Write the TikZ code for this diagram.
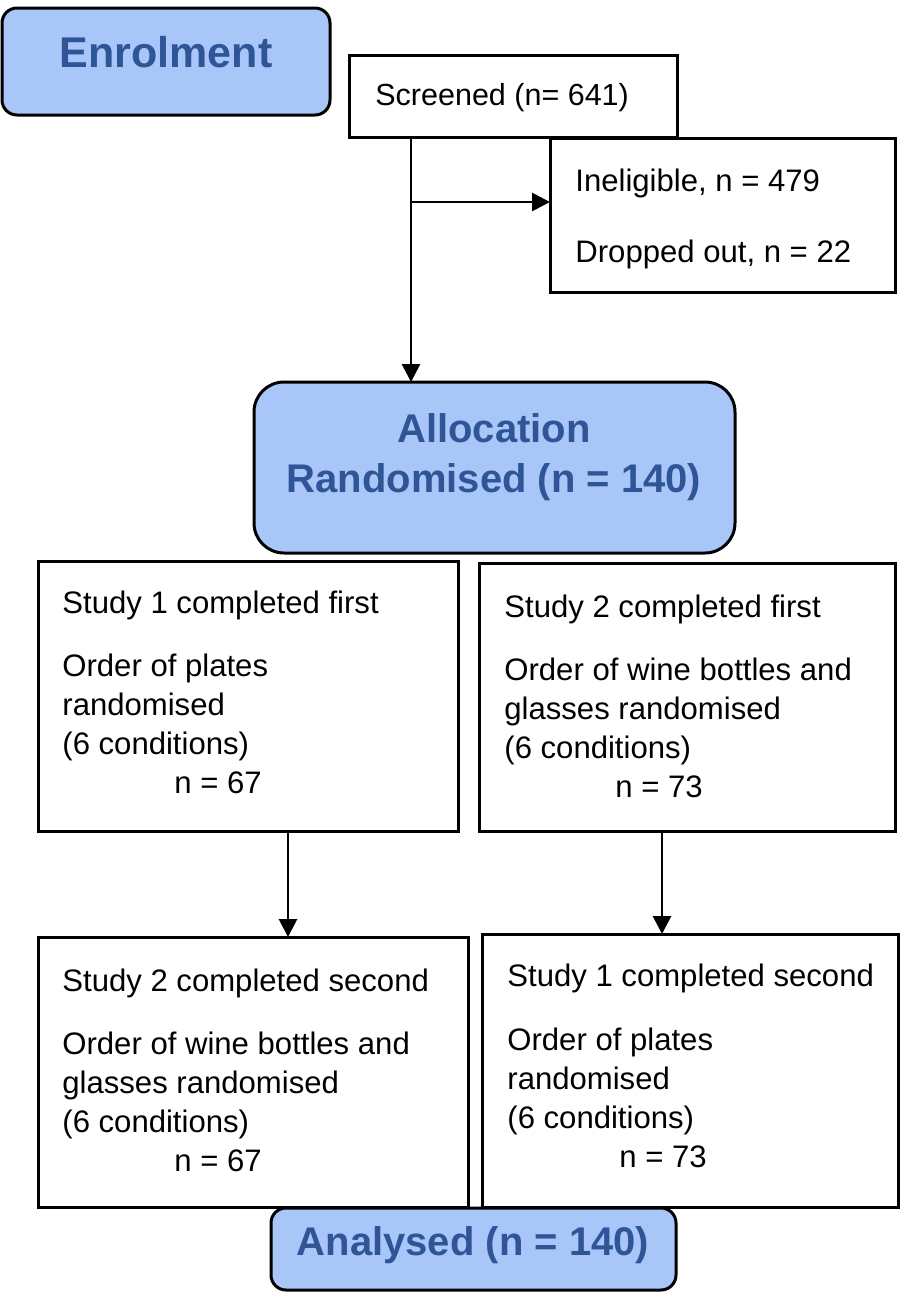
\documentclass[tikz,border=0pt]{standalone}
\usepackage{fontspec}
\setmainfont{Liberation Sans}
\usetikzlibrary{arrows.meta}
\definecolor{boxblue}{HTML}{A9C6F8}
\definecolor{headblue}{HTML}{2F5597}
\newcommand{\bodyfont}{\fontsize{15.55pt}{19.5pt}\selectfont}
\newcommand{\headfont}{\fontsize{20pt}{25pt}\selectfont\bfseries}
\begin{document}
\begin{tikzpicture}[x=0.5pt,y=-0.5pt,
  box/.style={draw, line width=1.5pt, inner sep=0pt, outer sep=0pt, anchor=north west, fill=white},
  rbox/.style={box, fill=boxblue},
  txt/.style={anchor=base west, inner sep=0pt, font=\bodyfont},
  head/.style={anchor=base, inner sep=0pt, font=\headfont, text=headblue},
  arr/.style={line width=1.4pt, -{Triangle[length=9pt,width=9pt]}}]
\useasboundingbox (0,0) rectangle (904,1292);
% boxes
\node[rbox, rounded corners=7.5pt, minimum width=164pt, minimum height=53.5pt] (enrol) at (2,8) {};
\node[box, minimum width=164pt, minimum height=41pt] (scr) at (349,55) {};
\node[box, minimum width=172.5pt, minimum height=77pt] (inel) at (550,138) {};
\node[rbox, rounded corners=15pt, minimum width=240.5pt, minimum height=85.5pt] (alloc) at (254,382) {};
\node[box, minimum width=210pt, minimum height=135pt] (s1f) at (38,561) {};
\node[box, minimum width=208pt, minimum height=134pt] (s2f) at (479,563) {};
\node[box, minimum width=215pt, minimum height=135pt] (s2s) at (38,937) {};
\node[box, minimum width=208pt, minimum height=136.5pt] (s1s) at (482,934) {};
\node[rbox, rounded corners=7.5pt, minimum width=202.5pt, minimum height=41pt] (anal) at (271,1208) {};
% texts
\node[head, font=\fontsize{21.5pt}{25pt}\selectfont\bfseries] (tenrol) at (166,67) {Enrolment};
\node[txt, font=\fontsize{15.25pt}{19.5pt}\selectfont] (tscr) at (375,105) {Screened (n= 641)};
\node[txt] (tinel) at (575,191) {\begin{tabular}[t]{@{}l@{}}Ineligible, n = 479\\[16pt]Dropped out, n = 22\end{tabular}};
\node[head] (talloc) at (494,442) {\begin{tabular}[t]{@{}c@{}}Allocation\\Randomised (n = 140)\end{tabular}};
\node[txt] (ts1f) at (62,613) {\begin{tabular}[t]{@{}l@{}}Study 1 completed first\\[12pt]Order of plates\\randomised\\(6 conditions)\\\hspace*{56pt}n = 67\end{tabular}};
\node[txt] (ts2f) at (504,617) {\begin{tabular}[t]{@{}l@{}}Study 2 completed first\\[12pt]Order of wine bottles and\\glasses randomised\\(6 conditions)\\\hspace*{55.5pt}n = 73\end{tabular}};
\node[txt] (ts2s) at (62,991) {\begin{tabular}[t]{@{}l@{}}Study 2 completed second\\[12pt]Order of wine bottles and\\glasses randomised\\(6 conditions)\\\hspace*{56pt}n = 67\end{tabular}};
\node[txt] (ts1s) at (507,986) {\begin{tabular}[t]{@{}l@{}}Study 1 completed second\\[12.5pt]Order of plates\\randomised\\(6 conditions)\\\hspace*{56pt}n = 73\end{tabular}};
\node[head] (tanal) at (473,1255) {Analysed (n = 140)};
% connectors
\coordinate (v) at (411,202);
\draw[arr] (scr.south -| v) -- (alloc.north -| v);
\draw[arr] (v) -- (v -| inel.west);
\coordinate (c1) at (288,880);
\draw[arr] (s1f.south -| c1) -- (s2s.north -| c1);
\coordinate (c2) at (662,880);
\draw[arr] (s2f.south -| c2) -- (s1s.north -| c2);
\end{tikzpicture}
\end{document}
